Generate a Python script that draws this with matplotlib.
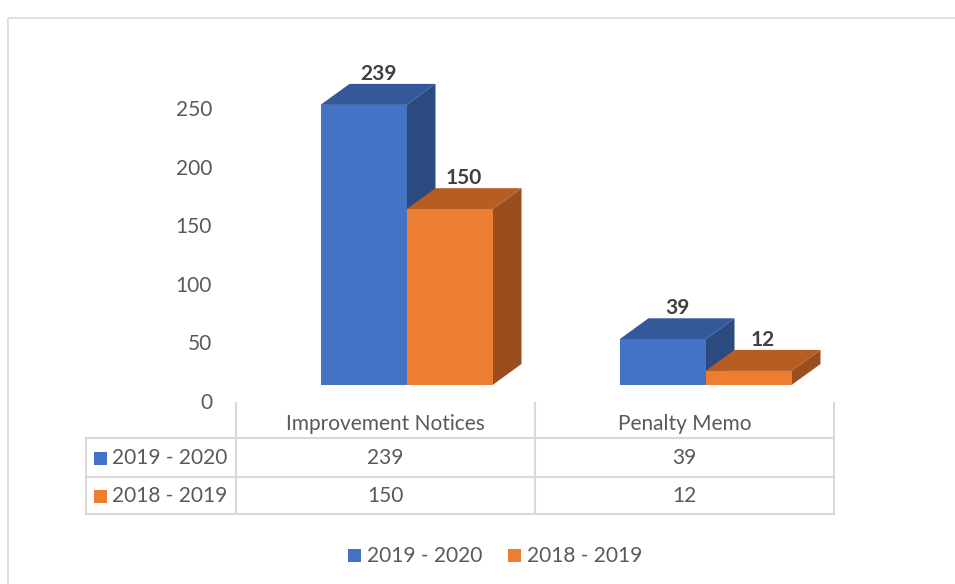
import numpy as np
import matplotlib
matplotlib.use('Agg')
import matplotlib.pyplot as plt
from matplotlib.patches import Polygon, Rectangle
from matplotlib.transforms import ScaledTranslation, blended_transform_factory

categories = ['Improvement Notices', 'Penalty Memo']
series_names = ['2019 - 2020', '2018 - 2019']
values_2019_2020 = [239, 39]
values_2018_2019 = [150, 12]
yticks = [0, 50, 100, 150, 200, 250]

front = ['#4472C4', '#ED7D31']
top = ['#34589A', '#B55D22']
side = ['#2A4A80', '#9A4E1D']
txt = '#595959'
grid = '#D9D9D9'
fs = 15

plt.rcParams['font.family'] = ['Lato', 'DejaVu Sans']

W, H = 955, 584
fig = plt.figure(figsize=(W / 100, H / 100), dpi=100)

# overlay in pixel coords for border, table and legend
ov = fig.add_axes([0, 0, 1, 1])
ov.set_xlim(0, W)
ov.set_ylim(H, 0)
ov.axis('off')
ov.add_patch(Rectangle((8, 18), W, H, fill=False, ec=grid, lw=1.2))

# main bar axes: value 0 at pixel y=385, 1.172 px per unit
ymax = 280
px_per = 1.172
ax_left, ax_right = 236, 834
ax_bottom = 385
ax = fig.add_axes([ax_left / W, (H - ax_bottom) / H,
                   (ax_right - ax_left) / W, ymax * px_per / H])
ax.set_xlim(-0.5, 1.5)
ax.set_ylim(0, ymax)
ax.axis('off')

unit = (ax_right - ax_left) / 2.0
w = 86 / unit
shift = 21 / unit
dx = 29 / unit
dy = 21 / px_per

series = [values_2019_2020, values_2018_2019]
for s, vals in enumerate(series):
    for i, v in enumerate(vals):
        x0 = i + shift - w + s * w
        x1 = x0 + w
        ax.add_patch(Polygon([(x1, 0), (x1 + dx, dy), (x1 + dx, v + dy), (x1, v)],
                             closed=True, fc=side[s], ec='none'))
        ax.add_patch(Polygon([(x0, v), (x1, v), (x1 + dx, v + dy), (x0 + dx, v + dy)],
                             closed=True, fc=top[s], ec='none'))
        ax.add_patch(Rectangle((x0, 0), w, v, fc=front[s], ec='none'))
        ax.annotate(str(v), (x0 + w / 2 + dx / 2, v + dy), xytext=(0, 0),
                    textcoords='offset points', ha='center', va='bottom',
                    fontsize=fs, fontweight='bold', color='#404040')

# y tick labels, shifted down like the Excel 3D wall
tr = blended_transform_factory(ax.transAxes, ax.transData) + \
    ScaledTranslation(-24 / 100, -18 / 100, fig.dpi_scale_trans)
for t in yticks:
    ax.text(0, t, str(t), transform=tr, ha='right', va='center',
            fontsize=fs, color=txt, clip_on=False)

# data table
col_x = [236, 535, 834]
row_y = [438, 477, 514]
for y in row_y:
    ov.plot([86, 834], [y, y], color=grid, lw=1.5)
ov.plot([86, 86], [438, 514], color=grid, lw=1.5)
for x in col_x:
    ov.plot([x, x], [403, 514], color=grid, lw=1.5)

for i, c in enumerate(categories):
    cx = (col_x[i] + col_x[i + 1]) / 2
    ov.text(cx, 424, c, ha='center', va='center', fontsize=fs, color=txt)
    for s, vals in enumerate(series):
        ov.text(cx, (row_y[s] + row_y[s + 1]) / 2 + 1, str(vals[i]),
                ha='center', va='center', fontsize=fs, color=txt)

for s, name in enumerate(series_names):
    cy = (row_y[s] + row_y[s + 1]) / 2
    ov.add_patch(Rectangle((94, cy - 6), 13, 13, fc=front[s], ec='none'))
    ov.text(112, cy + 1, name, ha='left', va='center', fontsize=fs, color=txt)

# legend
leg_x = [348, 508]
for s, name in enumerate(series_names):
    ov.add_patch(Rectangle((leg_x[s], 549), 13, 13, fc=front[s], ec='none'))
    ov.text(leg_x[s] + 19, 556, name, ha='left', va='center', fontsize=fs, color=txt)

fig.savefig('out.png', dpi=100)
